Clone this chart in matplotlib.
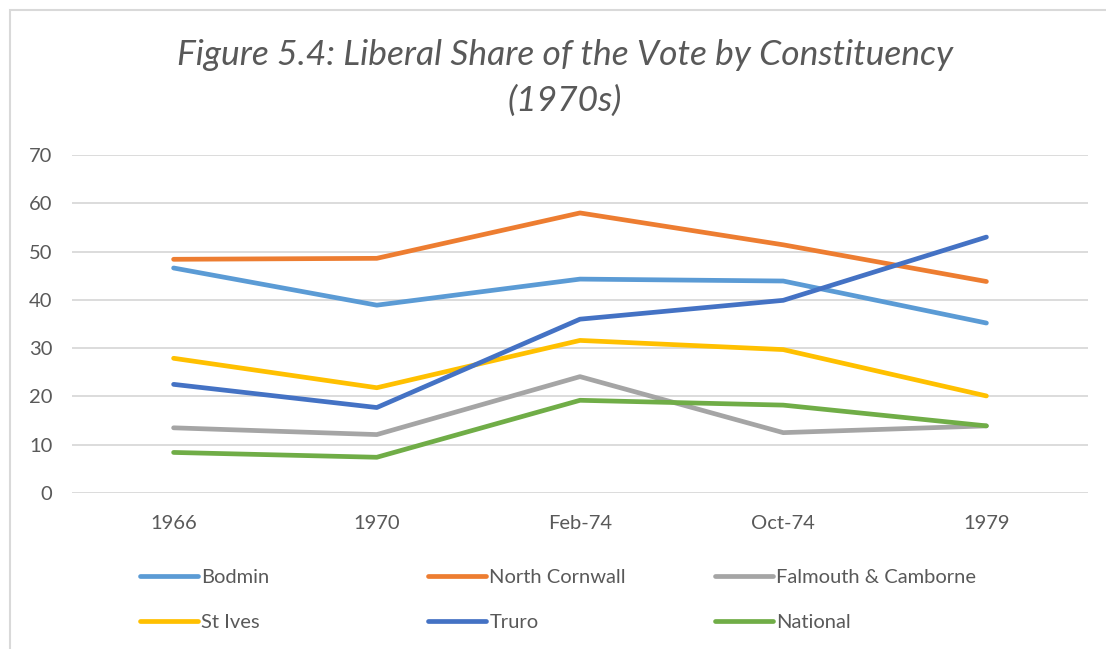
import matplotlib
matplotlib.use("Agg")
import matplotlib.pyplot as plt
from matplotlib.patches import Rectangle

categories = ["1966", "1970", "Feb-74", "Oct-74", "1979"]
bodmin = [46.6, 38.9, 44.3, 43.9, 35.2]
north_cornwall = [48.4, 48.6, 58.0, 51.4, 43.8]
falmouth = [13.5, 12.1, 24.1, 12.5, 13.9]
st_ives = [27.9, 21.8, 31.6, 29.7, 20.1]
truro = [22.5, 17.7, 36.0, 39.9, 53.0]
national = [8.4, 7.4, 19.2, 18.2, 13.9]

series_names = ["Bodmin", "North Cornwall", "Falmouth & Camborne", "St Ives", "Truro", "National"]
series_values = [bodmin, north_cornwall, falmouth, st_ives, truro, national]
colors = ["#5B9BD5", "#ED7D31", "#A5A5A5", "#FFC000", "#4472C4", "#70AD47"]
yticks = [0, 10, 20, 30, 40, 50, 60, 70]

plt.rcParams['font.family'] = ['Lato', 'DejaVu Sans']

W, H = 1106, 649
fig = plt.figure(figsize=(W / 100, H / 100), dpi=100)

# chart border
fig.patches.append(Rectangle((10 / W, -0.1), 1.2, 1 - 10 / H + 0.1, transform=fig.transFigure,
                             fill=False, edgecolor="#d9d9d9", linewidth=1.5))

ax = fig.add_axes([72 / W, 1 - 493 / H, (1088 - 72) / W, (493 - 155) / H])
x = list(range(len(categories)))
lines = []
for name, vals, c in zip(series_names, series_values, colors):
    ln, = ax.plot(x, vals, color=c, linewidth=3.4, solid_capstyle="round", label=name, zorder=3)
    lines.append(ln)

ax.set_xlim(-0.5, len(categories) - 0.5)
ax.set_ylim(0, 70)
ax.set_yticks(yticks)
ax.set_xticks(x)
ax.set_xticklabels(categories)
for s in ax.spines.values():
    s.set_visible(False)
ax.tick_params(length=0, labelsize=14.5, labelcolor="#595959")
ax.tick_params(axis="y", pad=14)
ax.tick_params(axis="x", pad=16)
ax.grid(axis="y", color="#d9d9d9", linewidth=1.3)
ax.set_axisbelow(True)

fig.text(565 / W, 1 - 55 / H, "Figure 5.4: Liberal Share of the Vote by Constituency",
         ha="center", va="center", fontsize=25.5, style="italic", color="#595959")
fig.text(565 / W, 1 - 101 / H, "(1970s)",
         ha="center", va="center", fontsize=25.5, style="italic", color="#595959")

col_x = [140, 428, 715]
for ci in range(3):
    hs = [lines[ci], lines[ci + 3]]
    leg = fig.legend(hs, [h.get_label() for h in hs], loc="upper left",
                     bbox_to_anchor=(col_x[ci] / W, 1 - 569 / H), frameon=False,
                     fontsize=14.5, labelcolor="#595959", handlelength=2.9,
                     handletextpad=0.15, labelspacing=1.37, borderaxespad=0, borderpad=0)

fig.savefig("out.png", dpi=100)
